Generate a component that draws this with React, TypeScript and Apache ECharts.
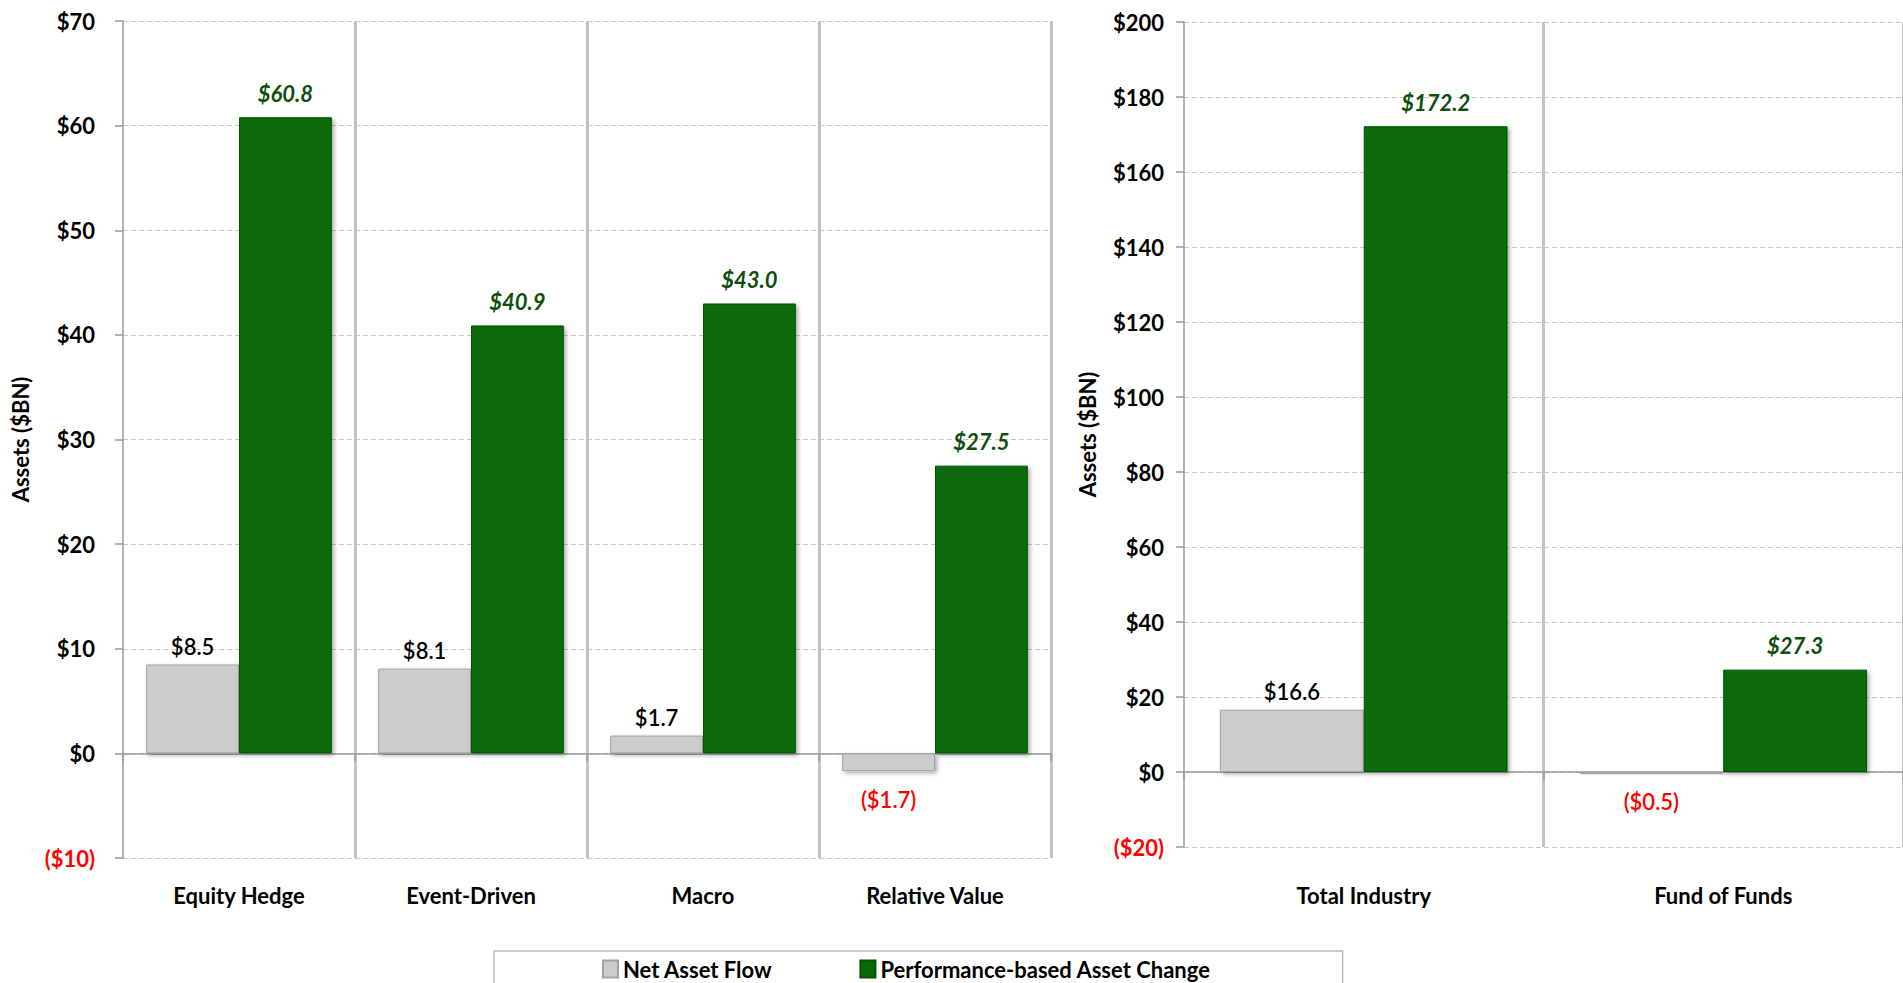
import React, { useEffect, useRef } from "react";
import * as echarts from "echarts";

const categoriesLeft = ["Equity Hedge", "Event-Driven", "Macro", "Relative Value"];
const netFlowLeft = [8.5, 8.1, 1.7, -1.7];
const perfLeft = [60.8, 40.9, 43.0, 27.5];

const categoriesRight = ["Total Industry", "Fund of Funds"];
const netFlowRight = [16.6, -0.5];
const perfRight = [172.2, 27.3];

const seriesNames = ["Net Asset Flow", "Performance-based Asset Change"];

const FONT = "Lato, 'Liberation Sans', Arial, sans-serif";
const AXIS_GREY = "#9a9a9a";

const fmtMoney = (v: number) => (v < 0 ? `($${Math.abs(v)})` : `$${v}`);
const fmtLabel = (v: number) => (v < 0 ? `($${Math.abs(v).toFixed(1)})` : `$${v.toFixed(1)}`);

const greyStyle = {
  color: "#cccccc",
  borderColor: "#a3a3a3",
  borderWidth: 1,
  shadowBlur: 4,
  shadowColor: "rgba(0,0,0,0.35)",
  shadowOffsetX: 2,
  shadowOffsetY: 2,
};
const greenStyle = {
  color: "#076a07",
  borderColor: "#045404",
  borderWidth: 1,
  shadowBlur: 4,
  shadowColor: "rgba(0,0,0,0.35)",
  shadowOffsetX: 2,
  shadowOffsetY: 2,
};

function netData(values: number[]) {
  return values.map((v) => ({
    value: v,
    label:
      v < 0
        ? { position: "bottom", distance: 17, color: "#ff0000" }
        : { position: "top", distance: 7, color: "#000000" },
  }));
}

function makeXAxes(gridIndex: number, cats: string[], labelMargin: number) {
  const sepColors = ["rgba(0,0,0,0)", ...cats.map(() => "#c2c2c2")];
  return [
    {
      type: "category",
      gridIndex,
      data: cats,
      position: "bottom",
      axisLine: { show: false, onZero: false },
      axisTick: { show: false },
      axisLabel: {
        margin: labelMargin,
        fontFamily: FONT,
        fontSize: 22,
        fontWeight: "bold",
        color: "#000",
      },
      splitLine: {
        show: true,
        lineStyle: { color: sepColors, width: 3, type: "solid" },
      },
    },
    {
      type: "category",
      gridIndex,
      data: cats,
      position: "top",
      axisLine: { show: true, onZero: true, lineStyle: { color: AXIS_GREY, width: 1.5 } },
      axisTick: { show: true, inside: true, length: 8, lineStyle: { color: AXIS_GREY, width: 1.5 } },
      axisLabel: { show: false },
      splitLine: { show: false },
    },
  ];
}

function makeYAxis(
  gridIndex: number,
  min: number,
  max: number,
  interval: number,
  nameGap: number,
  labelMargin: number
) {
  return {
    type: "value",
    gridIndex,
    min,
    max,
    interval,
    name: "Assets ($BN)",
    nameLocation: "middle",
    nameRotate: 90,
    nameGap,
    nameTextStyle: { fontFamily: FONT, fontSize: 22, fontWeight: "bold", color: "#000" },
    axisLine: { show: true, lineStyle: { color: AXIS_GREY, width: 1.5 } },
    axisTick: { show: true, length: 8, lineStyle: { color: AXIS_GREY, width: 1.5 } },
    axisLabel: {
      margin: labelMargin,
      fontFamily: FONT,
      fontSize: 22,
      fontWeight: "bold",
      formatter: (v: number) => fmtMoney(v),
      color: (v: any) => (Number(v) < 0 ? "#ff0000" : "#000000"),
    },
    splitLine: { show: true, lineStyle: { color: "#c8c8c8", width: 1, type: [5, 3] } },
  };
}

function barSeries(name: string, xAxisIndex: number, yAxisIndex: number, data: any[], isGreen: boolean) {
  return {
    name,
    type: "bar",
    xAxisIndex,
    yAxisIndex,
    data,
    barGap: "0%",
    barCategoryGap: "20%",
    itemStyle: isGreen ? greenStyle : greyStyle,
    label: isGreen
      ? {
          show: true,
          position: "top",
          distance: 13,
          fontFamily: FONT,
          fontSize: 22,
          fontWeight: "bold",
          fontStyle: "italic",
          color: "#0e4f0e",
          formatter: (p: any) => fmtLabel(p.value),
        }
      : {
          show: true,
          position: "top",
          fontFamily: FONT,
          fontSize: 22,
          fontWeight: 600,
          formatter: (p: any) => fmtLabel(p.value),
        },
  };
}

export default function App() {
  const ref = useRef<HTMLDivElement>(null);

  useEffect(() => {
    if (!ref.current) return;
    const chart = echarts.init(ref.current, null, { renderer: "svg" });
    const option: any = {
      animation: false,
      backgroundColor: "#ffffff",
      grid: [
        { left: 123, top: 21, width: 928, height: 837, containLabel: false },
        { left: 1184, top: 22, width: 722, height: 825, containLabel: false },
      ],
      xAxis: [...makeXAxes(0, categoriesLeft, 26), ...makeXAxes(1, categoriesRight, 37)],
      yAxis: [makeYAxis(0, -10, 70, 10, 92, 28), makeYAxis(1, -20, 200, 20, 86, 20)],
      legend: {
        data: seriesNames,
        left: 494,
        top: 951,
        orient: "horizontal",
        icon: "rect",
        padding: [7, 132, 20, 108],
        itemGap: 87,
        itemWidth: 15,
        itemHeight: 17,
        borderColor: "#bdbdbd",
        borderWidth: 1.5,
        textStyle: { fontFamily: FONT, fontSize: 22, fontWeight: "bold", color: "#000" },
      },
      series: [
        barSeries(seriesNames[0], 0, 0, netData(netFlowLeft), false),
        barSeries(seriesNames[1], 0, 0, perfLeft, true),
        barSeries(seriesNames[0], 2, 1, netData(netFlowRight), false),
        barSeries(seriesNames[1], 2, 1, perfRight, true),
      ],
    };
    chart.setOption(option);
    return () => chart.dispose();
  }, []);

  return (
    <div
      ref={ref}
      style={{ position: "absolute", left: 0, top: 0, width: 1903, height: 983, background: "#fff" }}
    />
  );
}
